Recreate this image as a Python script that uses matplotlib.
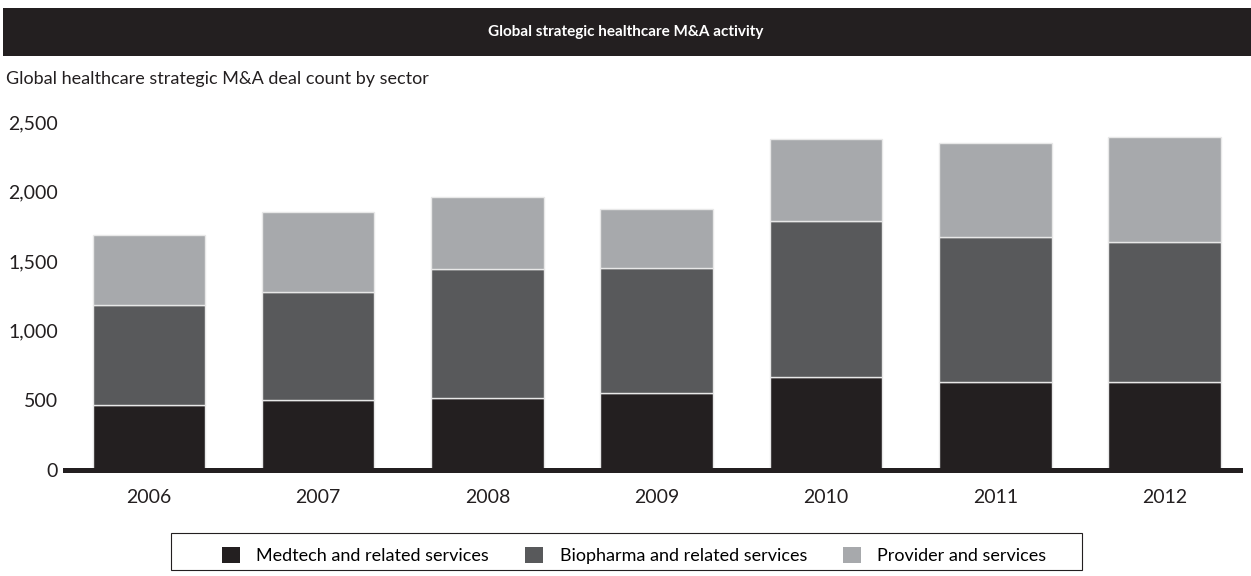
import numpy as np
import matplotlib
matplotlib.use("Agg")
import matplotlib.pyplot as plt
from matplotlib.patches import Rectangle, Patch

plt.rcParams["font.family"] = ["Lato", "DejaVu Sans"]

years = ["2006", "2007", "2008", "2009", "2010", "2011", "2012"]
medtech = [470, 500, 520, 555, 665, 630, 635]
biopharma = [715, 780, 925, 895, 1125, 1045, 1005]
provider = [505, 575, 515, 425, 590, 675, 750]
series = ["Medtech and related services", "Biopharma and related services",
          "Provider and services"]
colors = ["#231f20", "#58595b", "#a7a9ac"]
ink = "#231f20"

fig = plt.figure(figsize=(12.51, 5.76), dpi=100)

# header bar
fig.patches.append(Rectangle((0.0024, 0.903), 0.9976, 0.0833, transform=fig.transFigure,
                             facecolor=ink, edgecolor="none"))
fig.text(0.5, 0.944, "Global strategic healthcare M&A activity", color="white",
         fontsize=11, fontweight="bold", ha="center", va="center")
fig.text(0.005, 0.862, "Global healthcare strategic M&A deal count by sector",
         fontsize=13, ha="left", va="center", color=ink)

ax = fig.add_axes([0.052, 0.184, 0.939, 0.604])
x = np.arange(len(years))
w = 0.665
bottom = np.zeros(len(years))
for vals, lab, c in zip([medtech, biopharma, provider], series, colors):
    ax.bar(x, vals, w, bottom=bottom, color=c, edgecolor="#e8e8e8", linewidth=1,
           label=lab, zorder=2)
    bottom += np.array(vals)

ax.axhline(0, color=ink, lw=3.6, zorder=3, clip_on=False)
ax.set_xlim(-0.495, 6.444)
ax.set_ylim(0, 2500)
ax.set_yticks([0, 500, 1000, 1500, 2000, 2500])
ax.set_yticklabels(["0", "500", "1,000", "1,500", "2,000", "2,500"])
ax.set_xticks(x)
ax.set_xticklabels(years)
ax.tick_params(length=0, labelsize=14, colors=ink)
ax.tick_params(axis="x", pad=14)
ax.tick_params(axis="y", pad=5)
for s in ax.spines.values():
    s.set_visible(False)

# legend box
fig.patches.append(Rectangle((171 / 1251, (576 - 570) / 576), 911 / 1251, 37 / 576,
                             transform=fig.transFigure, facecolor="white",
                             edgecolor=ink, linewidth=0.8))
handles = [Patch(facecolor=c, edgecolor="none") for c in colors]
fig.legend(handles, series, loc="center left", bbox_to_anchor=(0.1775, 0.0356),
           ncol=3, frameon=False, fontsize=13, handlelength=1.0, handleheight=1.0,
           handletextpad=0.9, columnspacing=2.0, borderpad=0, borderaxespad=0)

plt.savefig("out.png", dpi=100)
